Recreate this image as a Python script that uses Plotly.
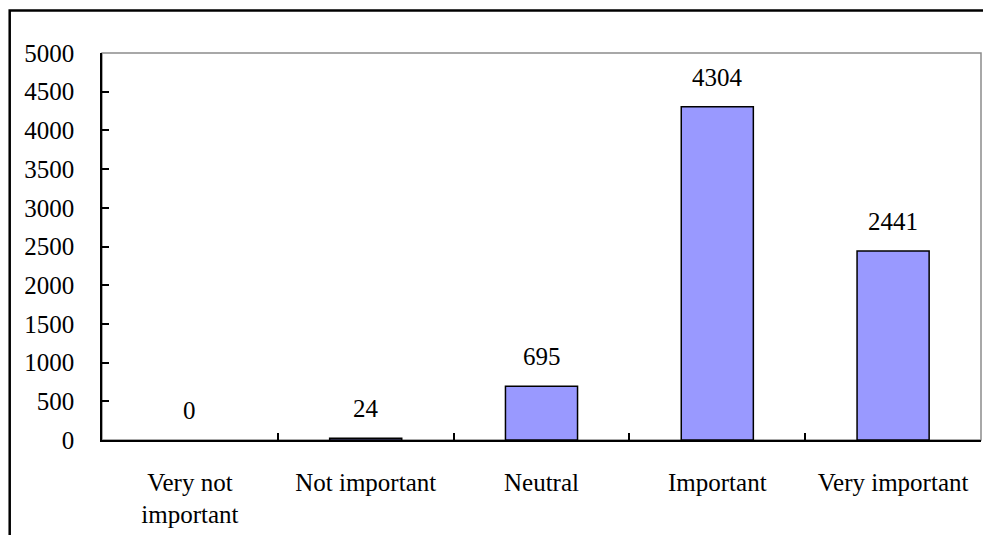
import plotly.graph_objects as go

# Survey responses: how important is each rating level
categories = ["Very not<br>important", "Not important", "Neutral", "Important", "Very important"]
counts = [0, 24, 695, 4304, 2441]
y_ticks = [0, 500, 1000, 1500, 2000, 2500, 3000, 3500, 4000, 4500, 5000]

FONT = dict(family="Liberation Serif", size=25, color="black")

W, H = 983, 535
L, R, T, B = 102, 2, 53, 95
pw, ph = W - L - R, H - T - B

fig = go.Figure()
fig.add_trace(go.Bar(
    x=categories,
    y=counts,
    marker=dict(color="#9999FF",
                line=dict(color="black", width=[0 if v == 0 else 1.5 for v in counts])),
    hoverinfo="x+y",
))

# value labels above each bar
for c, v in zip(categories, counts):
    fig.add_annotation(
        x=c, y=v, text=str(v), showarrow=False,
        yanchor="bottom", yshift=14, font=FONT,
    )

# gray plot-area border (left/bottom are drawn by the black axis lines)
fig.add_shape(type="rect", xref="paper", yref="paper", x0=0, x1=1, y0=0, y1=1,
              line=dict(color="#8C8C8C", width=1.5), layer="below")

# black chart frame
fig.add_shape(type="rect", xref="paper", yref="paper",
              x0=(9.7 - L) / pw, x1=(W + 20 - L) / pw,
              y0=-(H + 20 - T - ph) / ph, y1=1 + (T - 10.5) / ph,
              line=dict(color="black", width=2.5))

fig.update_layout(
    width=W, height=H,
    margin=dict(l=L, r=R, t=T, b=B),
    paper_bgcolor="white", plot_bgcolor="white",
    font=FONT,
    showlegend=False,
    bargap=0.59,
)
fig.update_xaxes(
    type="category", range=[-0.5, 4.5],
    showline=True, linecolor="black", linewidth=1.5,
    ticks="inside", tickson="boundaries", ticklen=7, tickcolor="black", tickwidth=1.5,
    showgrid=False, tickfont=FONT, ticklabelstandoff=19,
)
fig.update_yaxes(
    range=[0, 5000], tickvals=y_ticks,
    showline=True, linecolor="black", linewidth=1.5,
    ticks="inside", ticklen=7, tickcolor="black", tickwidth=1.5,
    showgrid=False, zeroline=False, tickfont=FONT, ticklabelstandoff=21,
)

fig.write_html("out.html")
